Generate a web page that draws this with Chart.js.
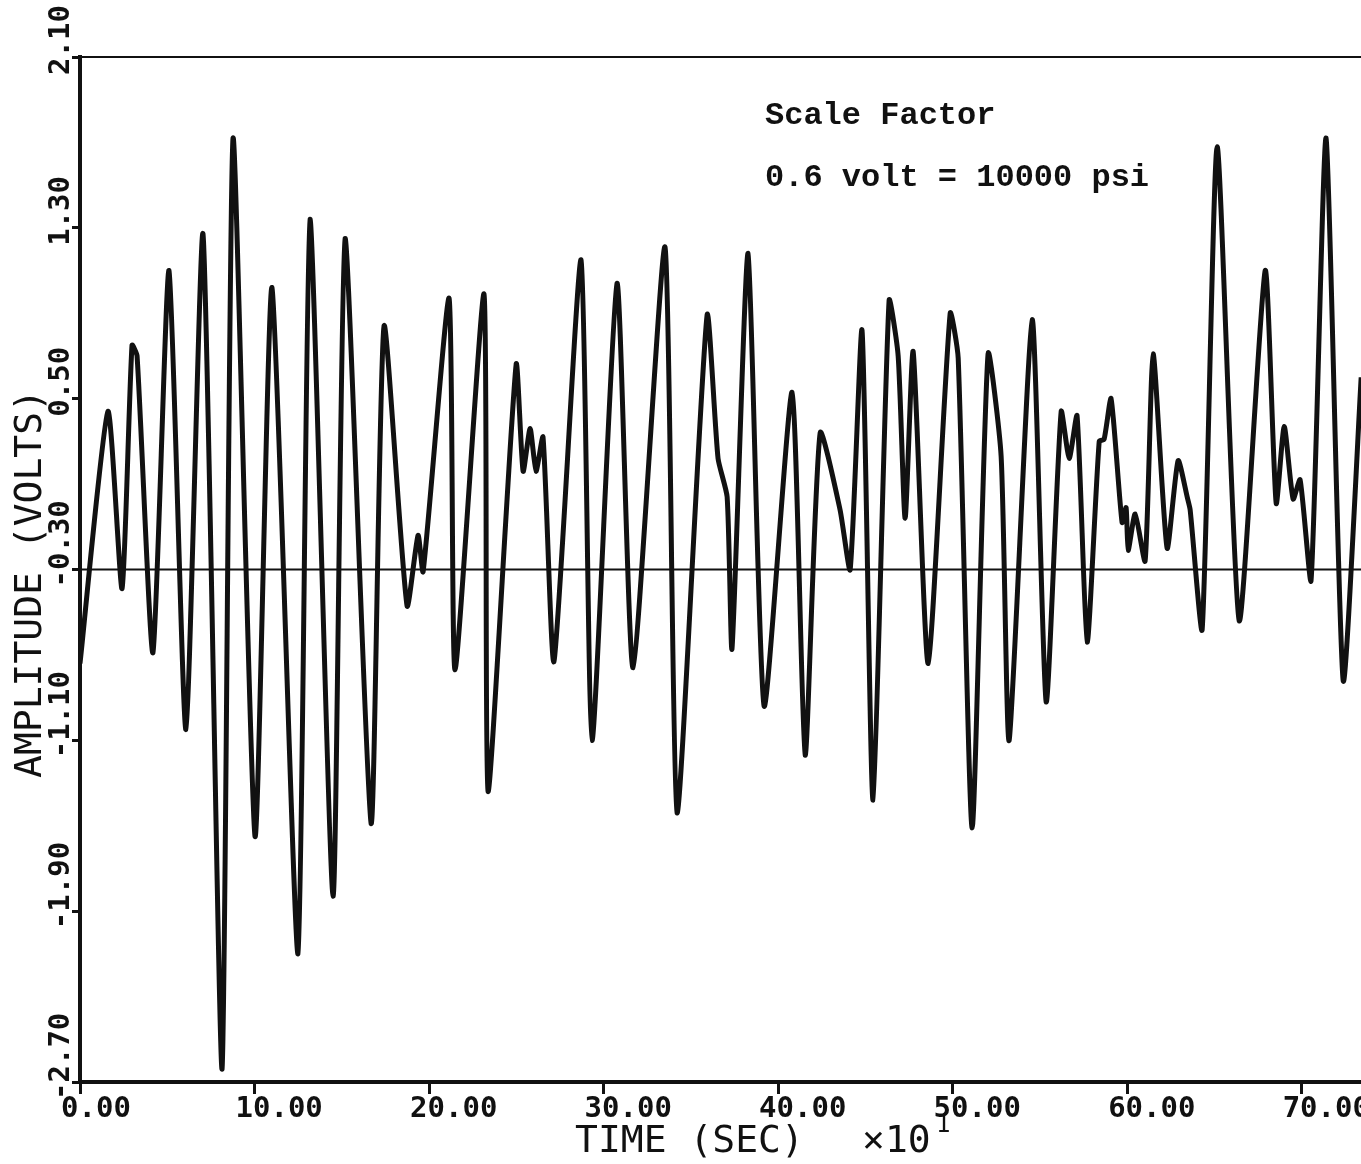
<!DOCTYPE html>
<html>
<head>
<meta charset="utf-8">
<script src="https://cdn.jsdelivr.net/npm/chart.js@4.4.1/dist/chart.umd.min.js"></script>
<style>
html,body{margin:0;padding:0;background:#fff}
#wrap{width:1361px;height:1164px}
</style>
</head>
<body>
<div id="wrap"><canvas id="chart" width="1361" height="1164"></canvas></div>
<script>
// time (x10 sec) and amplitude (volts)
const timeX=[0,1.60,2.41,2.98,3.27,4.18,5.10,6.07,7.05,8.14,8.77,10.03,11.00,12.49,13.18,14.50,15.19,16.68,17.42,18.74,
 19.37,19.66,21.15,21.49,23.15,23.38,24.99,25.39,25.79,26.13,26.53,27.16,28.71,29.34,30.77,31.69,33.52,34.21,35.93,36.56,
 37.08,37.36,38.28,39.20,40.80,41.55,42.41,43.55,44.13,44.81,45.44,46.36,46.88,47.28,47.74,48.60,49.86,50.32,51.12,52.03,
 52.78,53.24,54.56,55.36,56.22,56.68,57.13,57.71,58.40,58.68,59.08,59.71,59.94,60.06,60.46,61.03,61.49,62.29,62.92,63.44,
 63.61,64.30,65.16,66.42,67.91,68.54,69.00,69.51,69.91,70.54,71.40,72.38,73.41];
const ampY=[-0.74,0.44,-0.39,0.75,0.70,-0.69,1.10,-1.05,1.27,-2.64,1.72,-1.55,1.02,-2.10,1.34,-1.83,1.25,-1.49,0.84,-0.47,
 -0.14,-0.31,0.97,-0.77,0.99,-1.34,0.66,0.16,0.36,0.16,0.32,-0.73,1.15,-1.10,1.04,-0.76,1.21,-1.44,0.89,0.22,
 0.04,-0.67,1.18,-0.94,0.53,-1.17,0.34,-0.02,-0.30,0.82,-1.38,0.96,0.70,-0.06,0.72,-0.74,0.90,0.69,-1.51,0.71,
 0.23,-1.10,0.87,-0.92,0.44,0.22,0.42,-0.64,0.30,0.31,0.50,-0.08,-0.01,-0.21,-0.04,-0.26,0.71,-0.20,0.21,0.04,
 -0.02,-0.58,1.68,-0.54,1.10,0.01,0.37,0.03,0.12,-0.35,1.72,-0.82,0.60];

const xTicks=[0,10,20,30,40,50,60,70];
const yTicks=[2.1,1.3,0.5,-0.3,-1.1,-1.9,-2.7];
const baseLevel=-0.3;
const xMax=73.4;
const noteLines=["Scale Factor","0.6 volt = 10000 psi"];

const ink="#111";
const mono="DejaVu Sans Mono";

const textPlugin={
 id:"plotText",
 afterDraw(c){
  const ctx=c.ctx, a=c.chartArea, xs=c.scales.x, ys=c.scales.y;
  ctx.save();
  // top frame line
  ctx.strokeStyle=ink;ctx.lineWidth=2;
  ctx.beginPath();ctx.moveTo(a.left,a.top);ctx.lineTo(a.right,a.top);ctx.stroke();

  ctx.fillStyle=ink;
  ctx.font="bold 29px '"+mono+"'";
  ctx.textBaseline="alphabetic";ctx.textAlign="left";
  xTicks.forEach(v=>{
   ctx.fillText(v.toFixed(2),xs.getPixelForValue(v)-19,a.bottom+35);
  });
  yTicks.forEach(v=>{
   ctx.save();
   ctx.translate(69,ys.getPixelForValue(v)+18);
   ctx.rotate(-Math.PI/2);
   ctx.fillText(v.toFixed(2),0,0);
   ctx.restore();
  });

  ctx.font="38px '"+mono+"'";
  ctx.fillText("TIME (SEC)",575,1152);
  ctx.fillText("\u00d710",862,1152);
  ctx.font="24px '"+mono+"'";
  ctx.fillText("1",936,1132);

  ctx.save();
  ctx.font="38px '"+mono+"'";
  ctx.translate(41,778);
  ctx.rotate(-Math.PI/2);
  ctx.fillText("AMPLITUDE (VOLTS)",0,0);
  ctx.restore();

  ctx.font="bold 32px 'Liberation Mono'";
  ctx.fillText(noteLines[0],765,124);
  ctx.fillText(noteLines[1],765,186);
  ctx.restore();
 }
};

new Chart(document.getElementById("chart"),{
 type:"line",
 data:{datasets:[
  {data:timeX.map((t,i)=>({x:t,y:ampY[i]})),borderColor:ink,borderWidth:5,pointRadius:0,tension:0.2,fill:false},
  {data:[{x:0,y:baseLevel},{x:xMax,y:baseLevel}],borderColor:ink,borderWidth:2,pointRadius:0,tension:0,fill:false}
 ]},
 options:{
  responsive:false,animation:false,devicePixelRatio:1,
  layout:{padding:{left:72,top:57,right:0,bottom:70}},
  plugins:{legend:{display:false},tooltip:{enabled:false}},
  scales:{
   x:{type:"linear",min:0,max:xMax,
    afterBuildTicks:s=>{s.ticks=xTicks.map(v=>({value:v}))},
    ticks:{display:false},
    grid:{drawOnChartArea:false,drawTicks:true,tickLength:12,color:ink,lineWidth:3},
    border:{display:true,color:ink,width:4}},
   y:{type:"linear",min:-2.7,max:2.1,
    afterBuildTicks:s=>{s.ticks=yTicks.map(v=>({value:v}))},
    ticks:{display:false},
    grid:{drawOnChartArea:false,drawTicks:true,tickLength:8,color:ink,lineWidth:3},
    border:{display:true,color:ink,width:4}}
  }
 },
 plugins:[textPlugin]
});
</script>
</body>
</html>
